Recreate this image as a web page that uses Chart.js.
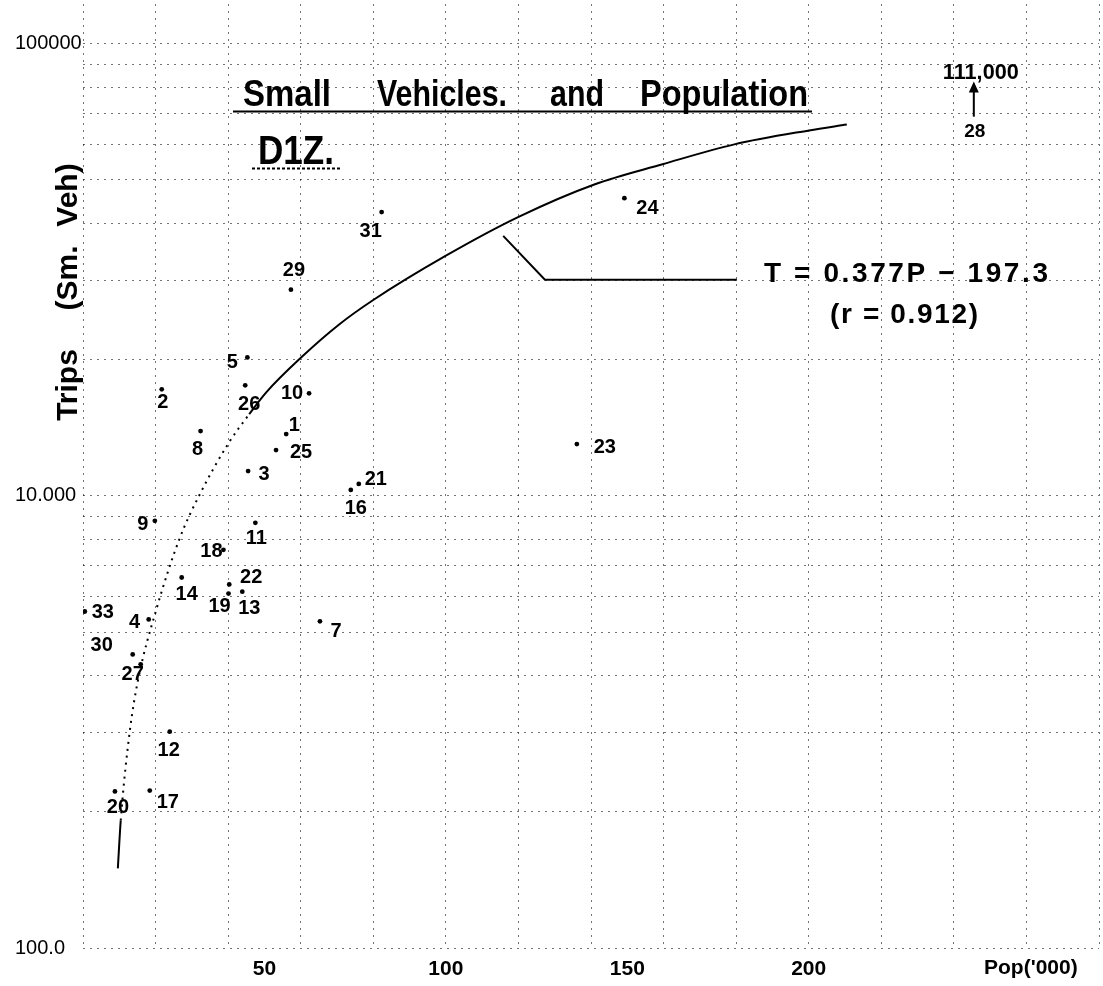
<!DOCTYPE html>
<html>
<head>
<meta charset="utf-8">
<script src="https://cdn.jsdelivr.net/npm/chart.js@4.4.1/dist/chart.umd.min.js"></script>
<style>
html,body{margin:0;padding:0;background:#fff;}
canvas{display:block;}
</style>
</head>
<body>
<canvas id="c" width="1103" height="986"></canvas>
<script>
// ---------------- DATA ----------------
const siteIds    = ['1','2','3','4','5','7','8','9','10','11','12','13','14','16','17','18','19','20','21','22','23','24','25','26','27','29','30','31','33'];
const population = [56.0,21.7,45.5,18.1,45.3,65.3,32.4,19.8,62.3,47.5,23.9,43.9,27.2,73.8,18.4,38.7,40.1,8.8,76.0,40.3,136.1,149.2,53.2,44.7,15.9,57.3,13.7,82.3,0.5];
const trips      = [13700,17210,11350,5330,20240,5280,13910,8810,16860,8720,3010,6140,6600,10310,2230,7600,6080,2220,10630,6370,13020,45560,12630,17560,4240,28580,4460,42440,5550];

// fitted curve
const curveP = [9.6,10.4,12.9,15.1,20.3,26.6,32.1,40.3,45.8,50.5,60.4,70.5,80.1,99.9,119.9,141.1,159.7,179.5,200.1,210.5];
const curveT = [1500,1914,3020,3890,5640,8040,10050,13150,15160,16950,20340,23920,27160,33950,41370,48920,54150,59920,64340,66320];

// off-scale site 28
const outlierId = '28';
const outlierP = 245.5;
const outlierLabel = '111,000';

// ticks
const xLabelValues = [50,100,150,200];
const yTickValues  = [1000,10000,100000];
const yTickLabels  = ['100.0','10.000','100000'];

// texts
const chartTitle = 'Small Vehicles. and Population';
const subTitle = 'D1Z.';
const yTitleParts = ['Trips','(Sm.','Veh)'];
const xTitle = "Pop('000)";
const equation = 'T = 0.377P \u2212 197.3';
const correlation = '(r = 0.912)';

// ---------------- STYLE / LAYOUT (not data) ----------------
const FONT = '"Liberation Sans", Arial, Helvetica, sans-serif';
const labelOffsets = [[8,-9],[1,13],[16,3],[-14,3],[-15,5],[16,10],[-3,18],[-12,4],[-17,0],[1,16],[-1,19],[7,17],[5,17],[5,19],[18,12],[-12,2],[-9,13],[3,16],[17,-4],[22,-7],[28,3],[23,10],[25,2],[4,19],[-8,10],[3,-19],[-31,-9],[-11,19],[18,1]];
const dottedFrom = 1, dottedTo = 8;
const gridColor = 'rgba(0,0,0,0.55)';

const xGridValues = [];
for (let v = 0; v <= 280; v += 20) xGridValues.push(v);
const yGridValues = [];
[1000,10000].forEach(d => { for (let k = 1; k <= 9; k++) yGridValues.push(d*k); });
yGridValues.push(100000);

function fitText(ctx, text, x, y, width) {
  const chars = [...text];
  const w = ctx.measureText(text).width;
  ctx.textAlign = 'left';
  if (chars.length < 2 || w >= width) { ctx.fillText(text, x, y, width); return; }
  const extra = (width - w) / (chars.length - 1);
  let cx = x;
  for (const ch of chars) { ctx.fillText(ch, cx, y); cx += ctx.measureText(ch).width + extra; }
}

const annotations = {
  id: 'annotations',
  afterDraw(chart) {
    const ctx = chart.ctx, xs = chart.scales.x, ys = chart.scales.y;
    ctx.save();
    ctx.fillStyle = '#000'; ctx.strokeStyle = '#000';

    // site labels
    ctx.font = 'bold 20px ' + FONT;
    ctx.textAlign = 'center'; ctx.textBaseline = 'middle';
    chart.getDatasetMeta(0).data.forEach((el, i) => {
      const o = labelOffsets[i];
      ctx.fillText(siteIds[i], el.x + o[0], el.y + o[1]);
    });

    // title
    ctx.textAlign = 'left';
    ctx.textBaseline = 'alphabetic';
    ctx.font = 'bold 36px ' + FONT;
    const words = chartTitle.split(' ');
    const wordBoxes = [[243,88],[377,130],[550,54],[640,168]];
    words.forEach((w, i) => ctx.fillText(w, wordBoxes[i][0], 106, wordBoxes[i][1]));
    ctx.lineWidth = 2;
    ctx.beginPath(); ctx.moveTo(233, 111.5); ctx.lineTo(812, 111.5); ctx.stroke();

    // subtitle
    ctx.font = 'bold 40px ' + FONT;
    ctx.textAlign = 'left';
    ctx.fillText(subTitle, 258, 164, 76);
    ctx.setLineDash([3,2]);
    ctx.beginPath(); ctx.moveTo(252, 168.5); ctx.lineTo(340, 168.5); ctx.stroke();
    ctx.setLineDash([]);

    // y-axis title (rotated)
    ctx.font = 'bold 30px ' + FONT;
    const yParts = [[yTitleParts[0],385],[yTitleParts[1],278],[yTitleParts[2],195]];
    yParts.forEach(([t, cy]) => {
      ctx.save(); ctx.translate(77, cy); ctx.rotate(-Math.PI/2);
      ctx.textAlign = 'center'; ctx.fillText(t, 0, 0); ctx.restore();
    });

    // x-axis title
    ctx.font = 'bold 21px ' + FONT;
    ctx.textBaseline = 'middle';
    ctx.textAlign = 'left';
    ctx.fillText(xTitle, 984, 968, 116);

    // pointer from curve to equation
    ctx.lineWidth = 2;
    ctx.beginPath();
    ctx.moveTo(xs.getPixelForValue(115.8), ys.getPixelForValue(37600));
    ctx.lineTo(xs.getPixelForValue(127.3), ys.getPixelForValue(30060));
    ctx.lineTo(xs.getPixelForValue(180.2), ys.getPixelForValue(30060));
    ctx.stroke();

    // equation
    ctx.textBaseline = 'alphabetic';
    ctx.font = 'bold 28px ' + FONT;
    fitText(ctx, equation, 764, 282, 284);
    fitText(ctx, correlation, 830, 323, 148);

    // outlier 28 arrow
    const ax = xs.getPixelForValue(outlierP);
    const yTip = ys.getPixelForValue(82500), yBase = ys.getPixelForValue(69000);
    ctx.lineWidth = 2;
    ctx.beginPath(); ctx.moveTo(ax, yBase); ctx.lineTo(ax, yTip + 6); ctx.stroke();
    ctx.beginPath(); ctx.moveTo(ax, yTip); ctx.lineTo(ax - 5, yTip + 11); ctx.lineTo(ax + 5, yTip + 11); ctx.closePath(); ctx.fill();
    ctx.font = 'bold 22px ' + FONT;
    ctx.textBaseline = 'alphabetic';
    fitText(ctx, outlierLabel, ax - 31, yTip - 3, 76);
    ctx.font = 'bold 19px ' + FONT;
    ctx.textAlign = 'center'; ctx.textBaseline = 'middle';
    ctx.fillText(outlierId, ax + 1, yBase + 15);

    ctx.restore();
  }
};

new Chart(document.getElementById('c'), {
  type: 'scatter',
  data: {
    datasets: [
      {
        label: 'Sites',
        data: population.map((p, i) => ({x: p, y: trips[i]})),
        pointRadius: 2.4, pointBackgroundColor: '#000', pointBorderWidth: 0,
        showLine: false
      },
      {
        label: 'Fit',
        data: curveP.map((p, i) => ({x: p, y: curveT[i]})),
        showLine: true, pointRadius: 0, borderColor: '#000', borderWidth: 2,
        cubicInterpolationMode: 'monotone',
        segment: {
          borderDash: c => (c.p0DataIndex >= dottedFrom && c.p1DataIndex <= dottedTo) ? [2,5] : undefined
        }
      }
    ]
  },
  options: {
    responsive: false,
    animation: false,
    layout: { padding: { left: 15, right: 0, top: 0, bottom: 0 } },
    plugins: { legend: { display: false }, tooltip: { enabled: false }, title: { display: false } },
    scales: {
      x: {
        type: 'linear', min: 0, max: 280,
        afterBuildTicks: s => {
          s.ticks = xGridValues.concat(xLabelValues.filter(v => v % 20 !== 0)).sort((a,b)=>a-b).map(v => ({value: v}));
        },
        afterFit: s => { s.height = 38; s.paddingLeft = 0; s.paddingRight = 0; },
        grid: {
          color: c => (c.tick && c.tick.value % 20 === 0) ? gridColor : 'rgba(0,0,0,0)',
          drawTicks: false, lineWidth: 1
        },
        border: { display: false, dash: [2,5] },
        ticks: {
          autoSkip: false, maxRotation: 0, padding: 9, color: '#000',
          font: { family: FONT, size: 21, weight: 'bold' },
          callback: v => xLabelValues.includes(v) ? String(v) : ''
        }
      },
      y: {
        type: 'logarithmic', min: 1000, max: 122480,
        afterBuildTicks: s => { s.ticks = yGridValues.map(v => ({value: v})); },
        afterFit: s => { s.width = 68; s.paddingTop = 0; s.paddingBottom = 0; },
        grid: { color: gridColor, drawTicks: false, lineWidth: 1 },
        border: { display: false, dash: [2,5] },
        ticks: {
          autoSkip: false, crossAlign: 'far', padding: 0, color: '#000',
          font: { family: FONT, size: 20 },
          callback: v => { const i = yTickValues.indexOf(v); return i >= 0 ? yTickLabels[i] : ''; }
        }
      }
    }
  },
  plugins: [annotations]
});
</script>
</body>
</html>
